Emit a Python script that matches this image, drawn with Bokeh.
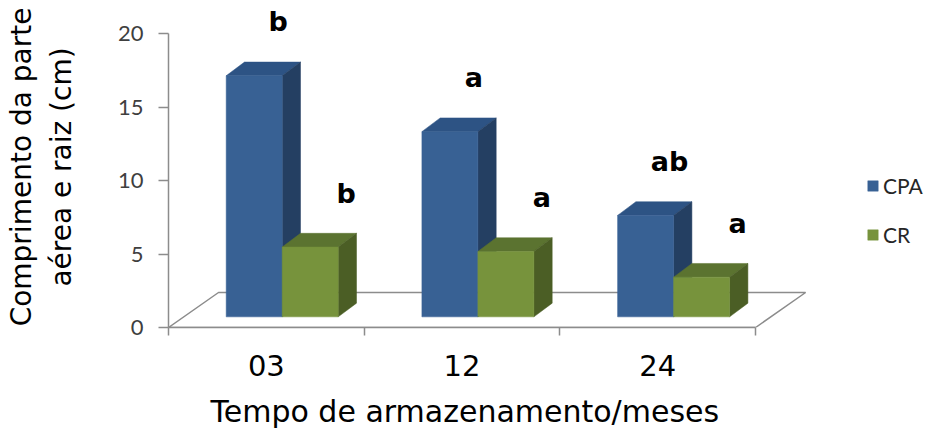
from bokeh.plotting import figure
from bokeh.models import Range1d, FixedTicker, Legend, LegendItem, Title
from bokeh.embed import file_html
from bokeh.resources import INLINE
from bokeh.core.properties import value

# ---------------- data ----------------
months = ["03", "12", "24"]
cpa = [16.4, 12.6, 6.9]
cr = [4.75, 4.45, 2.7]
cpa_letters = ["b", "a", "ab"]
cr_letters = ["b", "a", "a"]
y_ticks = [0, 5, 10, 15, 20]
series_names = ["CPA", "CR"]

# ---------------- layout / style constants ----------------
W, H = 937, 445
BORDER_LEFT, BORDER_TOP, BORDER_BOTTOM = 168, 6, 118
PX_X = 195.7   # pixels per category
PX_Y = 14.7    # pixels per cm
x_end = (W - BORDER_LEFT) / PX_X
y_end = (H - BORDER_TOP - BORDER_BOTTOM) / PX_Y

DXF, DYF = 50 / PX_X, 35 / PX_Y          # floor depth
DXB, DYB = 18.3 / PX_X, 13.7 / PX_Y      # bar depth
OX, OY = 15.85 / PX_X, 10.65 / PX_Y      # bar plane offset
BW = 56 / PX_X                            # bar width
LX = {"CPA": 24 / PX_X, "CR": 36 / PX_X}  # letter offsets
LY = 54 / PX_Y

AX = "#8C8C8C"
colors = {
    "CPA": ("#386194", "#2D5384", "#243F62"),
    "CR": ("#77933C", "#5B7330", "#4B5E25"),
}

p = figure(width=W, height=H, output_backend="svg", toolbar_location=None,
           x_range=Range1d(0, x_end), y_range=Range1d(0, y_end),
           min_border_left=BORDER_LEFT, min_border_top=BORDER_TOP,
           min_border_bottom=BORDER_BOTTOM, min_border_right=0)
p.outline_line_color = None
p.grid.visible = False
p.background_fill_color = "white"
p.border_fill_color = "white"

n = len(months)

# floor outline
p.patch([0, DXF, n + DXF, n], [0, DYF, DYF, 0], fill_color=None,
        line_color=AX, line_width=1.5)

front_renderers = {}
for k, (name, vals) in enumerate(zip(series_names, [cpa, cr])):
    front, top_c, side_c = colors[name]
    lefts = [i + OX + 0.5 - BW + k * BW for i in range(n)]
    rights = [l + BW for l in lefts]
    bottoms = [OY] * n
    tops = [OY + v for v in vals]
    top_xs = [[l, l + DXB, r + DXB, r] for l, r in zip(lefts, rights)]
    top_ys = [[t, t + DYB, t + DYB, t] for t in tops]
    side_xs = [[r, r, r + DXB, r + DXB] for r in rights]
    side_ys = [[OY, t, t + DYB, OY + DYB] for t in tops]
    p.patches(top_xs, top_ys, fill_color=top_c, line_color=top_c, line_width=0.5)
    p.patches(side_xs, side_ys, fill_color=side_c, line_color=side_c, line_width=0.5)
    front_renderers[name] = p.quad(left=lefts, right=rights, bottom=bottoms, top=tops,
                                   fill_color=front, line_color=front, line_width=0.5)
    letters = cpa_letters if name == "CPA" else cr_letters
    p.text(x=[(l + r) / 2 + LX[name] for l, r in zip(lefts, rights)],
           y=[t + LY for t in tops], text=letters,
           text_font=value("DejaVu Sans"), text_font_style="bold",
           text_font_size="27px", text_align="center",
           text_baseline="alphabetic", text_color="black")

# y axis
ya = p.yaxis[0]
ya.ticker = FixedTicker(ticks=y_ticks)
ya.bounds = (min(y_ticks), max(y_ticks))
ya.axis_line_color = AX
ya.axis_line_width = 1.5
ya.major_tick_line_color = AX
ya.major_tick_line_width = 1.5
ya.major_tick_out = 10
ya.major_tick_in = 0
ya.minor_tick_line_color = None
ya.major_label_standoff = 15
ya.major_label_text_font = "Lato"
ya.major_label_text_font_size = "22px"
ya.major_label_text_color = "#3F3F3F"
ya.axis_label = "Comprimento da parte\naérea e raiz (cm)"
ya.axis_label_text_font = "DejaVu Sans"
ya.axis_label_text_font_size = "28px"
ya.axis_label_text_font_style = "normal"
ya.axis_label_text_color = "black"
ya.axis_label_standoff = 37

# x axis
xa = p.xaxis[0]
centers = [i + 0.5 for i in range(n)]
xa.ticker = FixedTicker(ticks=centers, minor_ticks=list(range(n + 1)))
xa.major_label_overrides = {c: m for c, m in zip(centers, months)}
xa.bounds = (0, n)
xa.axis_line_color = AX
xa.axis_line_width = 1.5
xa.major_tick_line_color = None
xa.major_tick_out = 0
xa.major_tick_in = 0
xa.minor_tick_line_color = AX
xa.minor_tick_line_width = 1.5
xa.minor_tick_out = 8
xa.minor_tick_in = 0
xa.major_label_standoff = 19
xa.major_label_text_font = "DejaVu Sans"
xa.major_label_text_font_size = "29px"
xa.major_label_text_color = "black"

xtitle = Title(text="Tempo de armazenamento/meses", align="left", offset=42,
               standoff=26, vertical_align="bottom", text_font="DejaVu Sans",
               text_font_size="30px", text_font_style="normal", text_color="black")
p.add_layout(xtitle, "below")

legend = Legend(items=[LegendItem(label=nm, renderers=[front_renderers[nm]]) for nm in series_names],
                location=(698, 80), padding=0, margin=0, spacing=24,
                glyph_width=13, glyph_height=13, label_standoff=4,
                label_text_font="Lato", label_text_font_size="21px",
                label_text_color="#262626", border_line_color=None,
                background_fill_alpha=0)
p.add_layout(legend)

open("out.html", "w").write(file_html(p, INLINE))
